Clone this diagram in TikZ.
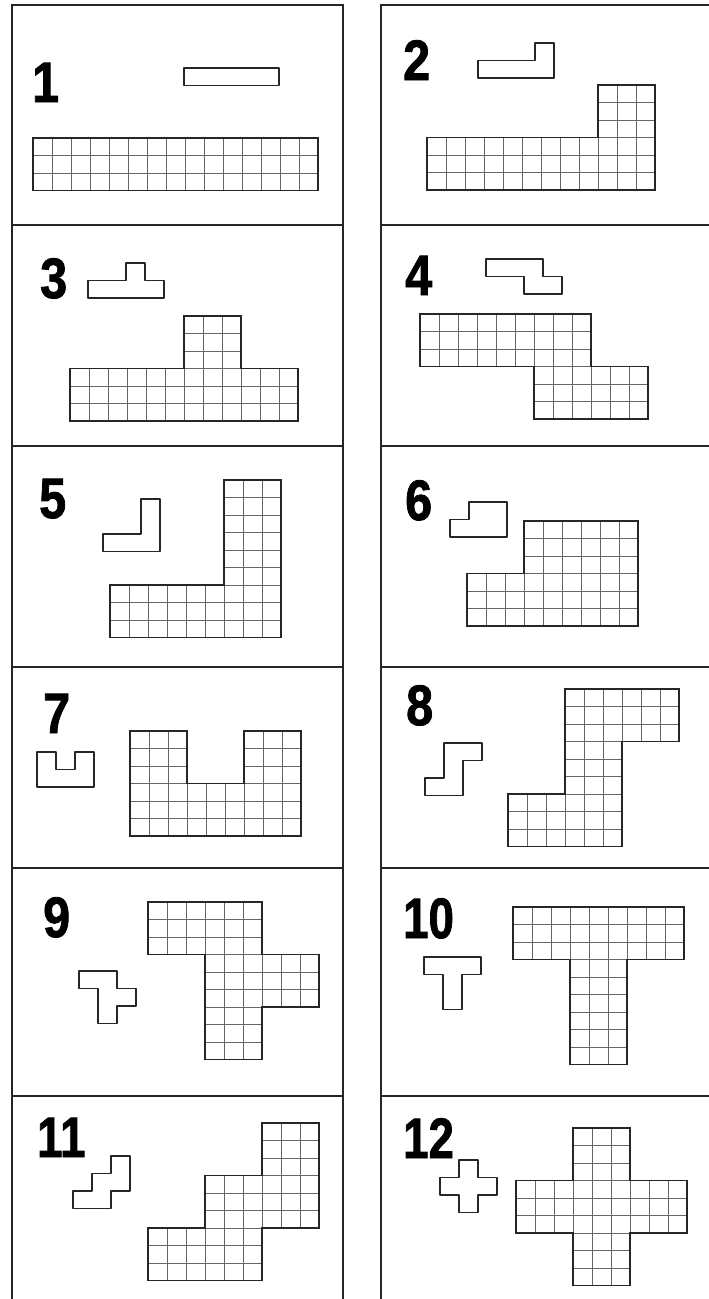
\documentclass[tikz,border=0pt]{standalone}
\usepackage{fontspec}
\setmainfont{Liberation Sans}
\newfontfamily\labfont[FakeBold=1.6]{Liberation Sans Bold}
\newcommand\pentgrid[5]{%
  \begin{scope}[shift={(#1pt,-#2pt)},x=19pt,y=-17.5pt]
    \begin{scope}
      \clip #5;
      \foreach \i in {1,...,#3} \draw[gridline] (\i,0) -- (\i,#4);
      \foreach \j in {1,...,#4} \draw[gridline] (0,\j) -- (#3,\j);
    \end{scope}
    \draw[outline] #5;
  \end{scope}}
\newcommand\pentpiece[3]{%
  \begin{scope}[shift={(#1pt,-#2pt)},x=19pt,y=-17.5pt]
    \draw[piece] #3;
  \end{scope}}
\begin{document}
\begin{tikzpicture}[x=1pt,y=-1pt,
  frame/.style={line width=1.9pt,black!85},
  gridline/.style={line width=0.8pt,black!60},
  outline/.style={line width=1.5pt,black!85,line join=miter},
  piece/.style={line width=1.5pt,black!85,line join=round},
  lab/.style={anchor=base west,inner sep=0pt,font=\labfont\fontsize{57}{57}\selectfont}]
\useasboundingbox[fill=white] (0,0) rectangle (709,1299);
% frames
\draw[frame] (12,1299) -- (12,5) -- (343,5) -- (343,1299);
\draw[frame] (381,1299) -- (381,5) -- (709,5);
\foreach \yy in {225,446,667,868,1096} {
  \draw[frame] (12,\yy) -- (343,\yy);
  \draw[frame] (381,\yy) -- (709,\yy);
}
% labels
\node[lab] (n1) at (32,102) {\scalebox{0.85}[1]{1}};
\node[lab] (n2) at (403,80) {\scalebox{0.85}[1]{2}};
\node[lab] (n3) at (40,298) {\scalebox{0.85}[1]{3}};
\node[lab] (n4) at (405,295) {\scalebox{0.85}[1]{4}};
\node[lab] (n5) at (39,518) {\scalebox{0.85}[1]{5}};
\node[lab] (n6) at (405,520) {\scalebox{0.85}[1]{6}};
\node[lab] (n7) at (43,733) {\scalebox{0.85}[1]{7}};
\node[lab] (n8) at (406,725) {\scalebox{0.85}[1]{8}};
\node[lab] (n9) at (43,937) {\scalebox{0.85}[1]{9}};
\node[lab] (n10) at (403,938) {\scalebox{0.8}[1]{10}};
\node[lab] (n11) at (37,1157) {\scalebox{0.8}[1]{11}};
\node[lab] (n12) at (403,1158) {\scalebox{0.8}[1]{12}};
% 1 I
\pentpiece{184}{68}{(0,0) -- (5,0) -- (5,1) -- (0,1) -- cycle}
\pentgrid{33}{138}{15}{3}{(0,0) -- (15,0) -- (15,3) -- (0,3) -- cycle}
% 2 L
\pentpiece{478}{43}{(0,1) -- (3,1) -- (3,0) -- (4,0) -- (4,2) -- (0,2) -- cycle}
\pentgrid{427}{85}{12}{6}{(0,3) -- (9,3) -- (9,0) -- (12,0) -- (12,6) -- (0,6) -- cycle}
% 3 Y
\pentpiece{88}{263}{(0,1) -- (2,1) -- (2,0) -- (3,0) -- (3,1) -- (4,1) -- (4,2) -- (0,2) -- cycle}
\pentgrid{70}{316}{12}{6}{(0,3) -- (6,3) -- (6,0) -- (9,0) -- (9,3) -- (12,3) -- (12,6) -- (0,6) -- cycle}
% 4 N
\pentpiece{486}{259}{(0,0) -- (3,0) -- (3,1) -- (4,1) -- (4,2) -- (2,2) -- (2,1) -- (0,1) -- cycle}
\pentgrid{420}{314}{12}{6}{(0,0) -- (9,0) -- (9,3) -- (12,3) -- (12,6) -- (6,6) -- (6,3) -- (0,3) -- cycle}
% 5 V
\pentpiece{103}{499}{(2,0) -- (3,0) -- (3,3) -- (0,3) -- (0,2) -- (2,2) -- cycle}
\pentgrid{110}{480}{9}{9}{(6,0) -- (9,0) -- (9,9) -- (0,9) -- (0,6) -- (6,6) -- cycle}
% 6 P
\pentpiece{450}{502}{(1,0) -- (3,0) -- (3,2) -- (0,2) -- (0,1) -- (1,1) -- cycle}
\pentgrid{467}{521}{9}{6}{(3,0) -- (9,0) -- (9,6) -- (0,6) -- (0,3) -- (3,3) -- cycle}
% 7 U
\pentpiece{37}{752}{(0,0) -- (1,0) -- (1,1) -- (2,1) -- (2,0) -- (3,0) -- (3,2) -- (0,2) -- cycle}
\pentgrid{130}{731}{9}{6}{(0,0) -- (3,0) -- (3,3) -- (6,3) -- (6,0) -- (9,0) -- (9,6) -- (0,6) -- cycle}
% 8 Z
\pentpiece{425}{743}{(1,0) -- (3,0) -- (3,1) -- (2,1) -- (2,3) -- (0,3) -- (0,2) -- (1,2) -- cycle}
\pentgrid{508}{689}{9}{9}{(3,0) -- (9,0) -- (9,3) -- (6,3) -- (6,9) -- (0,9) -- (0,6) -- (3,6) -- cycle}
% 9 F
\pentpiece{79}{971}{(0,0) -- (2,0) -- (2,1) -- (3,1) -- (3,2) -- (2,2) -- (2,3) -- (1,3) -- (1,1) -- (0,1) -- cycle}
\pentgrid{148}{902}{9}{9}{(0,0) -- (6,0) -- (6,3) -- (9,3) -- (9,6) -- (6,6) -- (6,9) -- (3,9) -- (3,3) -- (0,3) -- cycle}
% 10 T
\pentpiece{424}{957}{(0,0) -- (3,0) -- (3,1) -- (2,1) -- (2,3) -- (1,3) -- (1,1) -- (0,1) -- cycle}
\pentgrid{513}{907}{9}{9}{(0,0) -- (9,0) -- (9,3) -- (6,3) -- (6,9) -- (3,9) -- (3,3) -- (0,3) -- cycle}
% 11 W
\pentpiece{73}{1156}{(2,0) -- (3,0) -- (3,2) -- (2,2) -- (2,3) -- (0,3) -- (0,2) -- (1,2) -- (1,1) -- (2,1) -- cycle}
\pentgrid{148}{1123}{9}{9}{(6,0) -- (9,0) -- (9,6) -- (6,6) -- (6,9) -- (0,9) -- (0,6) -- (3,6) -- (3,3) -- (6,3) -- cycle}
% 12 X
\pentpiece{440}{1160}{(1,0) -- (2,0) -- (2,1) -- (3,1) -- (3,2) -- (2,2) -- (2,3) -- (1,3) -- (1,2) -- (0,2) -- (0,1) -- (1,1) -- cycle}
\pentgrid{516}{1128}{9}{9}{(3,0) -- (6,0) -- (6,3) -- (9,3) -- (9,6) -- (6,6) -- (6,9) -- (3,9) -- (3,6) -- (0,6) -- (0,3) -- (3,3) -- cycle}
\end{tikzpicture}
\end{document}
